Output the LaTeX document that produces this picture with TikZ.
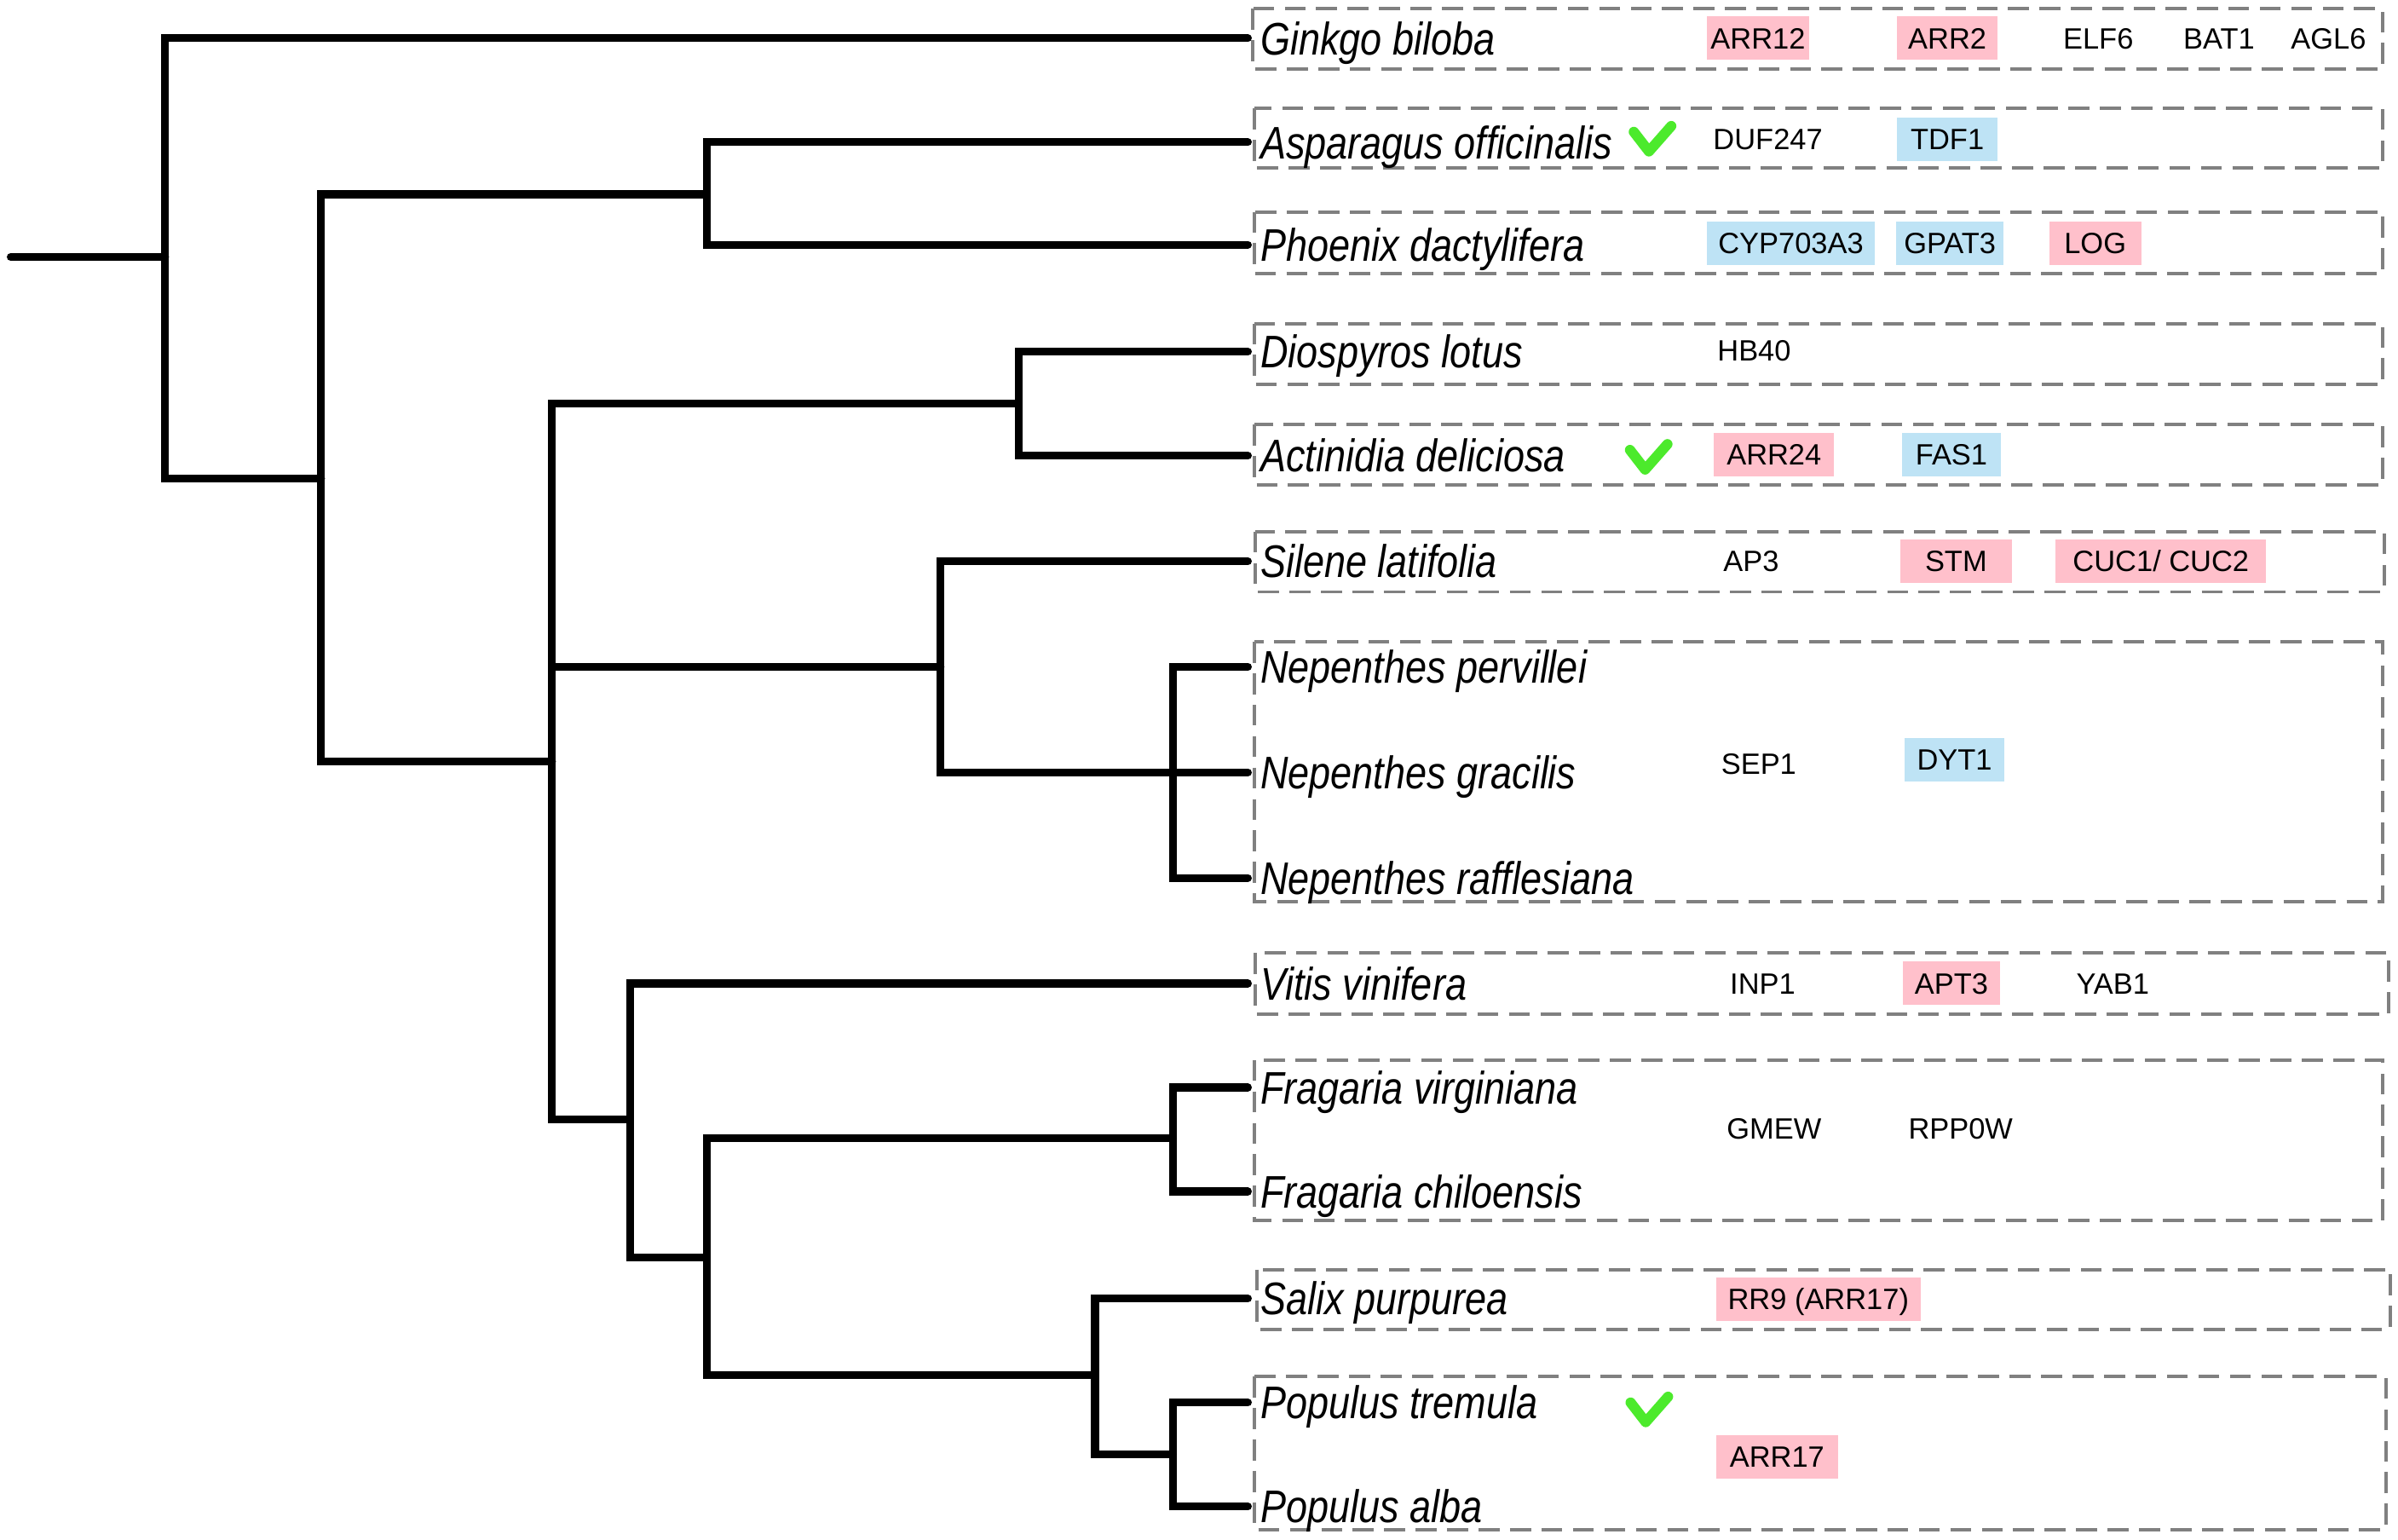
\documentclass[tikz,border=0pt]{standalone}
\usepackage{fontspec}
\setmainfont{Liberation Sans}
\newfontfamily\taxonfont[FakeStretch=0.84]{Liberation Sans}
\usepackage{tikz}
\usetikzlibrary{positioning}
\definecolor{genepink}{HTML}{FFC0CB}
\definecolor{geneblue}{HTML}{BEE3F5}
\definecolor{checkgreen}{HTML}{4CEA2C}
\definecolor{framegray}{HTML}{808080}
\tikzset{
    branch/.style = {line width=2.6pt, line cap=round},
    taxon/.style = {font=\taxonfont\itshape\fontsize{15.25}{17}\selectfont, inner sep=0pt, text height=10.9pt, text depth=0pt},
    gene/.style = {font=\fontsize{9.8}{11}\selectfont, inner sep=0pt, text height=7pt, text depth=0pt, minimum height=0.51cm},
    pinkbox/.style = {gene, fill=genepink},
    bluebox/.style = {gene, fill=geneblue},
    frame/.style = {draw=framegray, line width=1.1pt, dash pattern=on 7pt off 3.5pt},
    tick/.style = {draw=checkgreen, line width=3.4pt, line cap=round, line join=round}
}

\begin{document}
\begin{tikzpicture}[x=0.017946cm, y=-0.017946cm]
    \useasboundingbox (0,0) rectangle (1568,1006.4);

    % Nodos internos
    \coordinate (stub) at (7,168);
    \coordinate (root) at (108,168);
    \coordinate (nodeA) at (210,313);
    \coordinate (mono) at (462,127);
    \coordinate (eudicot) at (361,498);
    \coordinate (asterid) at (666,264);
    \coordinate (caryo) at (615,436);
    \coordinate (nepNode) at (767,505);
    \coordinate (rosid) at (412,732);
    \coordinate (rosidB) at (462,822);
    \coordinate (fragNode) at (767,744);
    \coordinate (salNode) at (716,899);
    \coordinate (popNode) at (767,951);

    % Hojas
    \coordinate (ginkgoTip) at (816,25);
    \coordinate (aspTip) at (816,93);
    \coordinate (phoTip) at (816,160);
    \coordinate (dioTip) at (816,230);
    \coordinate (actTip) at (816,298);
    \coordinate (silTip) at (816,367);
    \coordinate (nepATip) at (816,436);
    \coordinate (nepBTip) at (816,505);
    \coordinate (nepCTip) at (816,574);
    \coordinate (vitTip) at (816,643);
    \coordinate (fragATip) at (816,711);
    \coordinate (fragBTip) at (816,779);
    \coordinate (salTip) at (816,849);
    \coordinate (popATip) at (816,917);
    \coordinate (popBTip) at (816,985);

    % Marcos
    \draw[frame] (819,5.7) rectangle (1558,45);
    \draw[frame] (820,71) rectangle (1558,110);
    \draw[frame] (820,138.5) rectangle (1558,179);
    \draw[frame] (820,211.5) rectangle (1558,251.5);
    \draw[frame] (820,277.5) rectangle (1558,317);
    \draw[frame] (821,347.5) rectangle (1559,387);
    \draw[frame] (820,419.6) rectangle (1558,589.6);
    \draw[frame] (821,623) rectangle (1562,663);
    \draw[frame] (820,693) rectangle (1558,798);
    \draw[frame] (822,830) rectangle (1563,869);
    \draw[frame] (820,900) rectangle (1560,1000);

    % Ramas
    \draw[branch] (stub) -- (root);
    \draw[branch] (root) |- (ginkgoTip);
    \draw[branch] (root) |- (nodeA);
    \draw[branch] (nodeA) |- (mono);
    \draw[branch] (nodeA) |- (eudicot);
    \draw[branch] (mono) |- (aspTip);
    \draw[branch] (mono) |- (phoTip);
    \draw[branch] (eudicot) |- (asterid);
    \draw[branch] (eudicot) |- (caryo);
    \draw[branch] (eudicot) |- (rosid);
    \draw[branch] (asterid) |- (dioTip);
    \draw[branch] (asterid) |- (actTip);
    \draw[branch] (caryo) |- (silTip);
    \draw[branch] (caryo) |- (nepNode);
    \draw[branch] (nepNode) |- (nepATip);
    \draw[branch] (nepNode) -- (nepBTip);
    \draw[branch] (nepNode) |- (nepCTip);
    \draw[branch] (rosid) |- (vitTip);
    \draw[branch] (rosid) |- (rosidB);
    \draw[branch] (rosidB) |- (fragNode);
    \draw[branch] (rosidB) |- (salNode);
    \draw[branch] (fragNode) |- (fragATip);
    \draw[branch] (fragNode) |- (fragBTip);
    \draw[branch] (salNode) |- (salTip);
    \draw[branch] (salNode) |- (popNode);
    \draw[branch] (popNode) |- (popATip);
    \draw[branch] (popNode) |- (popBTip);

    % Especies
    \node[taxon, right=4pt of ginkgoTip] (ginkgo) {Ginkgo biloba};
    \node[taxon, right=4pt of aspTip] (asparagus) {Asparagus officinalis};
    \node[taxon, right=4pt of phoTip] (phoenix) {Phoenix dactylifera};
    \node[taxon, right=4pt of dioTip] (diospyros) {Diospyros lotus};
    \node[taxon, right=4pt of actTip] (actinidia) {Actinidia deliciosa};
    \node[taxon, right=4pt of silTip] (silene) {Silene latifolia};
    \node[taxon, right=4pt of nepATip] (nepA) {Nepenthes pervillei};
    \node[taxon, right=4pt of nepBTip] (nepB) {Nepenthes gracilis};
    \node[taxon, right=4pt of nepCTip] (nepC) {Nepenthes rafflesiana};
    \node[taxon, right=4pt of vitTip] (vitis) {Vitis vinifera};
    \node[taxon, right=4pt of fragATip] (fragA) {Fragaria virginiana};
    \node[taxon, right=4pt of fragBTip] (fragB) {Fragaria chiloensis};
    \node[taxon, right=4pt of salTip] (salix) {Salix purpurea};
    \node[taxon, right=4pt of popATip] (popA) {Populus tremula};
    \node[taxon, right=4pt of popBTip] (popB) {Populus alba};

    % Marcas (visto bueno)
    \coordinate (tickAsp) at (1080.5,91);
    \coordinate (tickAct) at (1078,299);
    \coordinate (tickPop) at (1078.4,921.8);
    \draw[tick, shift={(tickAsp)}] (-12.2,-4.8) -- (-2.3,8) -- (12.3,-8.6);
    \draw[tick, shift={(tickAct)}] (-12.2,-4.8) -- (-2.3,8) -- (12.3,-8.6);
    \draw[tick, shift={(tickPop)}] (-12.2,-4.8) -- (-2.3,8) -- (12.3,-8.6);

    % Genes
    \node[pinkbox, minimum width=1.202cm] (arrTwelve) at (1149.5,25) {ARR12};
    \node[pinkbox, minimum width=1.181cm] (arrTwo) at (1273.3,25) {ARR2};
    \node[gene] (elf) at (1372,25) {ELF6};
    \node[gene] (bat) at (1451,25) {BAT1};
    \node[gene] (agl) at (1522.5,25) {AGL6};
    \node[gene] (duf) at (1156,91) {DUF247};
    \node[bluebox, minimum width=1.181cm] (tdf) at (1273.3,91) {TDF1};
    \node[bluebox, minimum width=1.974cm] (cyp) at (1171,159) {CYP703A3};
    \node[bluebox, minimum width=1.256cm] (gpat) at (1275,159) {GPAT3};
    \node[pinkbox, minimum width=1.082cm] (log) at (1370,159) {LOG};
    \node[gene] (hb) at (1147,229) {HB40};
    \node[pinkbox, minimum width=1.407cm] (arrTwentyFour) at (1160,297) {ARR24};
    \node[bluebox, minimum width=1.158cm] (fas) at (1276,297) {FAS1};
    \node[gene] (apThree) at (1145,367) {AP3};
    \node[pinkbox, minimum width=1.310cm] (stm) at (1279,367) {STM};
    \node[pinkbox, minimum width=2.471cm] (cuc) at (1413,367) {CUC1/ CUC2};
    \node[gene] (sep) at (1150,499.5) {SEP1};
    \node[bluebox, minimum width=1.177cm] (dyt) at (1278,496.5) {DYT1};
    \node[gene] (inp) at (1152.6,643) {INP1};
    \node[pinkbox, minimum width=1.140cm] (aptThree) at (1276,643) {APT3};
    \node[gene] (yab) at (1381.5,643) {YAB1};
    \node[gene] (gmew) at (1160,738) {GMEW};
    \node[gene] (rpp) at (1282,738) {RPP0W};
    \node[pinkbox, minimum width=2.405cm] (rrNine) at (1189,849.5) {RR9 (ARR17)};
    \node[pinkbox, minimum width=1.436cm] (arrSeventeen) at (1162,952.5) {ARR17};
\end{tikzpicture}
\end{document}
